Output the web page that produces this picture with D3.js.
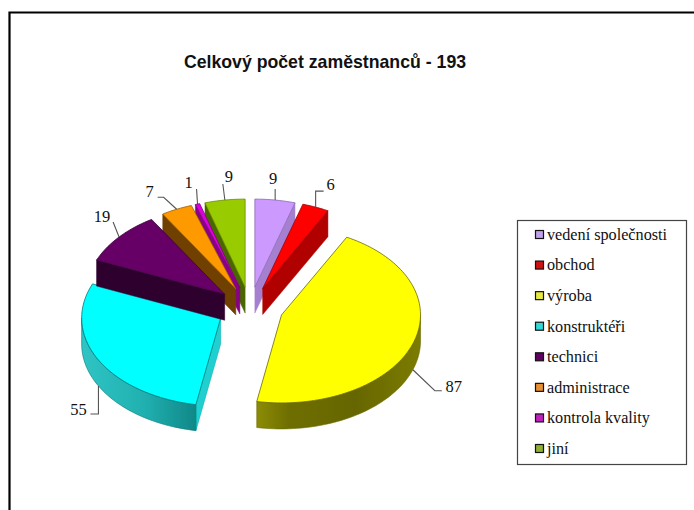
<!DOCTYPE html>
<html><head><meta charset="utf-8">
<script src="https://cdnjs.cloudflare.com/ajax/libs/d3/7.8.5/d3.min.js"></script>
<style>html,body{margin:0;padding:0;background:#fff}svg{display:block}</style>
</head><body><svg id="c" width="694" height="510"></svg>
<script>
const categories = ["vedení společnosti","obchod","výroba","konstruktéři","technici","administrace","kontrola kvality","jiní"];
const values = [9,6,87,55,19,7,1,9];
const chartTitle = "Celkový počet zaměstnanců - 193";
const topColors = ["#cc99ff","#ff0000","#ffff00","#00ffff","#660066","#ff9900","#dd00dd","#99cc00"];
const sideColors = ["#a680d0","#b00000","#808000","#00a8a8","#2e002e","#704000","#880088","#4a6600"];
const edgeColors = ["#8a6ab0","#a00000","#6a6a00","#007878","#3a003a","#a06000","#800080","#688a00"];
const legendColors = ["#c0a0e8","#d01010","#e8e840","#30d8d8","#600060","#e89030","#c020c0","#90b030"];
const drawOrder = [0,1,7,6,5,2,3,4];
// leader geometry relative to each slice's rim point, and label offset from the last leader point
const leaders = [
 {wall:false,pts:[[0,-11]],lab:[-2,-11]},
 {wall:false,pts:[[0,-16],[8,-16]],lab:[7,-7]},
 {wall:true, pts:[[22,21],[29,21]],lab:[12,-5]},
 {wall:true, pts:[[0,28],[-8,28]],lab:[-12,-5]},
 {wall:false,pts:[[-6,-15]],lab:[-11,-6]},
 {wall:false,pts:[[-13,-12],[-19,-12]],lab:[-8,-6]},
 {wall:false,pts:[[-1,-15]],lab:[-8,-7]},
 {wall:false,pts:[[-2,-16]],lab:[6,-8]}
];
const W=694,H=510, cx=250, cy=308, rx=139, ry=88, depth=26, explode=0.24;
const svg=d3.select("#c");
const defs=svg.append("defs");

// frame
svg.append("path").attr("d",`M9.5,${H}V12.5H${W}`).attr("fill","none").attr("stroke","#000").attr("stroke-width",2.2);

svg.append("text").text(chartTitle).attr("x",325).attr("y",68).attr("text-anchor","middle")
  .attr("font-family","Liberation Sans").attr("font-weight","bold").attr("font-size",17.7).attr("fill","#111");

const arcs=d3.pie().sort(null).value(d=>d)(values);
const scaleX=d3.scaleLinear().domain([0,1]).range([0,rx]);
const scaleY=d3.scaleLinear().domain([0,1]).range([0,ry]);
function apex(d){const m=(d.startAngle+d.endAngle)/2;
  return [cx+scaleX(explode*Math.sin(m)), cy-scaleY(explode*Math.cos(m))];}
function rim(o,a,dz=0){return [o[0]+scaleX(Math.sin(a)), o[1]-scaleY(Math.cos(a))+dz];}
const line=d3.line();
function samples(a0,a1){const n=Math.max(2,Math.ceil((a1-a0)/0.03));return d3.range(n+1).map(i=>a0+(a1-a0)*i/n);}

arcs.forEach((d,i)=>{
  if(i==2||i==3){
    const g=defs.append("linearGradient").attr("id","w"+i);
    const stops= i==2 ? [[0,"#8c8c06"],[0.2,"#6e6e00"],[0.6,"#666600"],[1,"#7c7c00"]]
                      : [[0,"#30c4c4"],[0.55,"#20b0b0"],[1,"#108888"]];
    stops.forEach(s=>g.append("stop").attr("offset",s[0]).attr("stop-color",s[1]));
  }
});

const gPie=svg.append("g");
drawOrder.forEach(i=>{
  const d=arcs[i], o=apex(d), g=gPie.append("g");
  const a0=d.startAngle,a1=d.endAngle;
  const face=a=>{const p=rim(o,a);return line([o,p,[p[0],p[1]+depth],[o[0],o[1]+depth]])+"Z";};
  if(Math.sin(a0)<-1e-6) g.append("path").attr("d",face(a0)).attr("fill",i==3?"#20d0d0":sideColors[i]).attr("stroke",sideColors[i]).attr("stroke-width",.5);
  if(Math.sin(a1)>1e-6) g.append("path").attr("d",face(a1)).attr("fill",sideColors[i]).attr("stroke",sideColors[i]).attr("stroke-width",.5);
  const w0=Math.max(a0,Math.PI/2), w1=Math.min(a1,1.5*Math.PI);
  if(w1>w0){
    const top=samples(w0,w1).map(a=>rim(o,a));
    const bot=samples(w0,w1).reverse().map(a=>rim(o,a,depth));
    g.append("path").attr("d",line(top.concat(bot))+"Z")
      .attr("fill",(i==2||i==3)?`url(#w${i})`:sideColors[i]).attr("stroke",edgeColors[i]).attr("stroke-width",.6);
  }
  const pts=[o].concat(samples(a0,a1).map(a=>rim(o,a)));
  g.append("path").attr("d",line(pts)+"Z").attr("fill",topColors[i]).attr("stroke",edgeColors[i]).attr("stroke-width",.8).attr("stroke-linejoin","round");
});

// data labels and leaders
const gLab=svg.append("g");
arcs.forEach((d,i)=>{
  const L=leaders[i], m=(d.startAngle+d.endAngle)/2, s=rim(apex(d),m,L.wall?depth:0);
  const pts=[s].concat(L.pts.map(p=>[s[0]+p[0],s[1]+p[1]]));
  gLab.append("path").attr("d",line(pts)).attr("fill","none").attr("stroke","#555").attr("stroke-width",1.1);
  const e=pts[pts.length-1];
  gLab.append("text").text(values[i]).attr("x",e[0]+L.lab[0]).attr("y",e[1]+L.lab[1]).attr("dy","0.35em")
    .attr("text-anchor","middle").attr("font-family","Liberation Serif").attr("font-size",16.5).attr("fill","#111");
});

// legend
const lg=svg.append("g");
lg.append("rect").attr("x",517.5).attr("y",220.5).attr("width",169).attr("height",244).attr("fill","#fff").attr("stroke","#444").attr("stroke-width",1.2);
const ly=d3.scalePoint().domain(d3.range(categories.length)).range([235,449]);
categories.forEach((c,i)=>{
  const y=ly(i);
  lg.append("rect").attr("x",535.5).attr("y",y-4.5).attr("width",8).attr("height",8).attr("fill",legendColors[i]).attr("stroke","#111").attr("stroke-width",1.2);
  lg.append("text").text(c).attr("x",547).attr("y",y).attr("dy","0.3em").attr("font-family","Liberation Serif").attr("font-size",16.2).attr("fill","#111");
});
</script></body></html>
